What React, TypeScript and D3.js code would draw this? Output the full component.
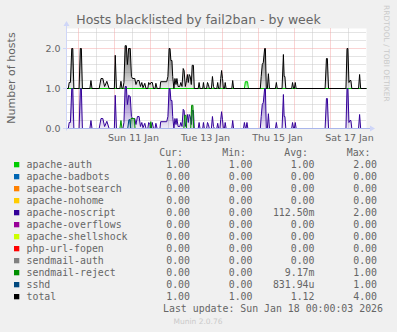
import React from "react";
import * as d3 from "d3";

const W = 397;
const H = 332;

const startTime = new Date(2026, 0, 9, 16, 0, 0);
const endTime = new Date(2026, 0, 18, 0, 0, 0);

const titleText = "Hosts blacklisted by fail2ban - by week";
const yAxisLabel = "Number of hosts";
const yTickValues = [0, 1, 2];
const yTickLabels = ["0.0", "1.0", "2.0"];
const xTickLabels = ["Sun 11 Jan", "Tue 13 Jan", "Thu 15 Jan", "Sat 17 Jan"];
const xTickDates = [
  new Date(2026, 0, 11, 12),
  new Date(2026, 0, 13, 12),
  new Date(2026, 0, 15, 12),
  new Date(2026, 0, 17, 12),
];

const seriesNames = [
  "apache-auth",
  "apache-badbots",
  "apache-botsearch",
  "apache-nohome",
  "apache-noscript",
  "apache-overflows",
  "apache-shellshock",
  "php-url-fopen",
  "sendmail-auth",
  "sendmail-reject",
  "sshd",
  "total",
];
const seriesColors = [
  "#00CC00",
  "#0066B3",
  "#FF8000",
  "#FFCC00",
  "#330099",
  "#990099",
  "#CCFF00",
  "#FF0000",
  "#808080",
  "#008F00",
  "#00487D",
  "#000000",
];
const seriesBaselines = [1, 0, 0, 0, 0, 0, 0, 0, 0, 0, 0, 1];
const curValues = ["1.00", "0.00", "0.00", "0.00", "0.00", "0.00", "0.00", "0.00", "0.00", "0.00", "0.00", "1.00"];
const minValues = ["1.00", "0.00", "0.00", "0.00", "0.00", "0.00", "0.00", "0.00", "0.00", "0.00", "0.00", "1.00"];
const avgValues = ["1.00", "0.00", "0.00", "0.00", "112.50m", "0.00", "0.00", "0.00", "0.00", "9.17m", "831.94u", "1.12"];
const maxValues = ["2.00", "0.00", "0.00", "0.00", "2.00", "0.00", "0.00", "0.00", "0.00", "1.00", "1.00", "4.00"];
const lastUpdate = "Last update: Sun Jan 18 00:00:03 2026";
const muninVersion = "Munin 2.0.76";
const watermark = "RRDTOOL / TOBI OETIKER";

// [hours since start, value]
const apacheAuth: [number, number][] = [
  [0, 1], [118.6, 1], [119.2, 1.17], [120.7, 1.17], [121.3, 1], [200, 1],
];
const apacheBadbots: [number, number][] = [[0, 0], [200, 0]];
const apacheBotsearch: [number, number][] = [[0, 0], [200, 0]];
const apacheNohome: [number, number][] = [[0, 0], [200, 0]];
const apacheNoscript: [number, number][] = [
  [0, 0], [1.2, 0], [1.8, 0.15], [2.6, 0.15], [3.5, 1.0], [4.2, 1.0], [4.9, 0],
  [8.4, 0], [9.2, 1.0], [9.9, 1.0], [10.6, 0],
  [15.6, 0], [16.3, 0.2], [17.0, 0],
  [21.8, 0], [23, 0.25], [24.2, 0.25], [25.4, 0.05], [26.9, 0.18], [28.4, 0],
  [31.9, 0], [32.5, 0.83], [33.3, 0],
  [37.6, 0], [38.3, 0.15], [39.1, 1.05], [39.9, 1.05], [40.6, 0.6], [41.4, 0.83], [42.5, 0.8],
  [43.3, 0.3], [44, 0.25], [45.5, 0.25], [46.3, 0.1], [47.3, 0.3], [48.4, 0.3], [49.3, 0.05],
  [50.2, 0.15], [51, 0.02], [52.2, 0.13], [53, 0],
  [54.2, 0], [54.8, 0.15], [55.6, 0.1], [56.3, 0], [57.2, 0.15], [58, 0],
  [59, 0], [59.6, 0.13], [60.4, 0],
  [62.3, 0], [62.8, 0.17], [66.8, 0.17], [67.6, 0.3], [68.4, 1.0], [69, 1.0], [69.6, 0.7], [70.3, 0.7],
  [70.8, 0.3], [71.6, 0], [72.3, 0.25], [73, 0.1], [73.6, 0.25], [74.4, 0.05], [75.5, 0.05], [76.2, 0.15],
  [77, 0.05], [77.8, 0.48], [78.4, 0.45], [79.2, 0.05], [80, 0.2], [80.6, 0.35], [81.2, 0.15], [81.8, 0.35],
  [82.5, 0.3], [83.2, 0.1], [83.8, 0.45], [84.6, 0.45], [85.2, 0],
  [87.8, 0], [88.4, 0.15], [89, 0], [90.8, 0], [91.3, 0.15], [91.9, 0], [93.4, 0], [94, 0.15], [94.6, 0.1],
  [95.2, 0], [96.6, 0], [97.3, 0.3], [98, 0.05], [98.6, 0],
  [100.2, 0], [100.8, 0.13], [101.4, 0], [102.3, 0], [102.8, 0.22], [103.4, 0.42], [104, 0.22], [104.6, 0],
  [105.3, 0], [105.8, 0.15], [106.4, 0],
  [110.2, 0], [110.8, 0.2], [111.4, 0],
  [118.0, 0], [118.6, 0.15], [119.3, 0], [119.7, 0], [120.3, 0.15], [120.9, 0],
  [129.2, 0], [129.8, 0.3], [130.5, 0.6], [131.2, 0.65], [132.1, 1.0], [132.6, 1.0], [133.2, 0],
  [133.9, 0], [134.6, 0.37], [135.3, 0],
  [139.3, 0], [139.9, 0.15], [140.5, 0],
  [143.7, 0], [144.6, 0.85], [145.1, 0.3], [145.6, 0.3], [146.2, 0],
  [150.1, 0], [150.7, 0.15], [151.4, 0], [151.9, 0], [152.5, 0.15], [153.1, 0],
  [172.4, 0], [173.3, 0.75], [173.9, 0.75], [174.7, 0],
  [186.3, 0], [187, 1.0], [187.6, 1.0], [188.3, 0.15], [188.9, 0.2], [189.6, 0.2], [190.2, 0],
  [194.7, 0], [195.4, 0.35], [196.1, 0],
  [200, 0],
];
const apacheOverflows: [number, number][] = [[0, 0], [200, 0]];
const apacheShellshock: [number, number][] = [[0, 0], [200, 0]];
const phpUrlFopen: [number, number][] = [[0, 0], [200, 0]];
const sendmailAuth: [number, number][] = [[0, 0], [200, 0]];
const sendmailReject: [number, number][] = [
  [0, 0], [35.6, 0], [36.3, 0.2], [37.0, 0],
  [42.6, 0], [43.0, 0.25], [45.2, 0.25], [45.7, 0],
  [55.6, 0], [56.2, 0.17], [56.8, 0],
  [78.2, 0], [78.8, 0.33], [79.6, 0.33], [80.1, 0],
  [82.8, 0], [83.4, 0.58], [84.3, 0.58], [84.8, 0],
  [200, 0],
];
const sshd: [number, number][] = [
  [0, 0], [40.8, 0], [41.6, 0.22], [42.3, 0.22], [42.9, 0], [200, 0],
];
const total: [number, number][] = [
  [0, 1], [1.2, 1], [1.8, 1.15], [2.6, 1.15], [3.5, 2.0], [4.2, 2.0], [4.9, 1],
  [8.4, 1], [9.2, 2.0], [9.9, 2.0], [10.6, 1],
  [15.6, 1], [16.3, 1.2], [17.0, 1],
  [21.8, 1], [23, 1.25], [24.2, 1.25], [25.4, 1.05], [26.9, 1.18], [28.4, 1],
  [31.9, 1], [32.5, 1.83], [33.3, 1],
  [35.6, 1], [36.3, 1.18], [37.0, 1],
  [37.6, 1], [38.3, 1.15], [39.1, 2.07], [39.9, 2.07], [40.6, 1.6], [41.4, 2.0], [42.5, 2.0],
  [43.3, 1.3], [44, 1.25], [45.5, 1.25], [46.3, 1.1], [47.3, 1.2], [48.4, 1.2], [49.3, 1.05],
  [50.2, 1.15], [51, 1.02], [52.2, 1.13], [53, 1],
  [54.2, 1], [54.8, 1.15], [55.6, 1.1], [56.3, 1.15], [57.2, 1.15], [58, 1],
  [59, 1], [59.6, 1.13], [60.4, 1],
  [62.3, 1], [62.8, 1.17], [66.8, 1.17], [67.6, 1.3], [68.4, 2.0], [69, 2.0], [69.6, 1.7], [70.3, 1.7],
  [70.8, 1.3], [71.6, 1], [72.3, 1.25], [73, 1.1], [73.6, 1.25], [74.4, 1.05], [75.5, 1.05], [76.2, 1.15],
  [77, 1.05], [77.8, 1.5], [78.4, 1.45], [79.2, 1.05], [80, 1.2], [80.6, 1.35], [81.2, 1.15], [81.8, 1.35],
  [82.5, 1.3], [83.2, 1.1], [83.8, 1.58], [84.6, 1.58], [85.2, 1],
  [87.8, 1], [88.4, 1.15], [89, 1], [90.8, 1], [91.3, 1.15], [91.9, 1], [93.4, 1], [94, 1.15], [94.6, 1.1],
  [95.2, 1], [96.6, 1], [97.3, 1.3], [98, 1.05], [98.6, 1],
  [100.2, 1], [100.8, 1.15], [101.4, 1], [102.3, 1], [102.8, 1.25], [103.4, 1.45], [104, 1.25], [104.6, 1],
  [105.3, 1], [105.8, 1.15], [106.4, 1],
  [110.2, 1], [110.8, 1.2], [111.4, 1],
  [129.2, 1], [129.8, 1.3], [130.5, 1.6], [131.2, 1.65], [132.1, 2.0], [132.6, 2.0], [133.2, 1],
  [133.9, 1], [134.6, 1.37], [135.3, 1],
  [139.3, 1], [139.9, 1.15], [140.5, 1],
  [143.7, 1], [144.6, 1.85], [145.1, 1.3], [145.6, 1.3], [146.2, 1],
  [150.1, 1], [150.7, 1.15], [151.4, 1], [151.9, 1], [152.5, 1.15], [153.1, 1],
  [172.4, 1], [173.3, 1.75], [173.9, 1.75], [174.7, 1],
  [186.3, 1], [187, 2.0], [187.6, 2.0], [188.3, 1.15], [188.9, 1.2], [189.6, 1.2], [190.2, 1],
  [194.7, 1], [195.4, 1.35], [196.1, 1],
  [200, 1],
];

const seriesData = [
  apacheAuth, apacheBadbots, apacheBotsearch, apacheNohome, apacheNoscript, apacheOverflows,
  apacheShellshock, phpUrlFopen, sendmailAuth, sendmailReject, sshd, total,
];

const PL = 66.5, PR = 366.5, PT = 28.5, PB = 128.5;
const FONT = "#666666";
const AXIS = "#CFD6F8";

export default function App() {
  const x = d3.scaleTime().domain([startTime, endTime]).range([PL, PR]);
  const y = d3.scaleLinear().domain([0, 2.5]).range([PB, PT]);
  const toDate = (h: number) => new Date(startTime.getTime() + h * 3600 * 1000);
  const line = d3
    .line<[number, number]>()
    .x((d) => x(toDate(d[0])))
    .y((d) => y(d[1]));
  const area = (base: number) =>
    d3
      .area<[number, number]>()
      .x((d) => x(toDate(d[0])))
      .y0(y(base))
      .y1((d) => y(d[1]));

  const minorH = d3.range(1, 13).map((k) => k * 0.2).filter((v) => Math.abs(v - Math.round(v)) > 1e-6);
  const majorH = [1, 2];
  const days = d3.timeDay.range(startTime, endTime).filter((d) => d > startTime);
  const noons = d3.timeHour.range(startTime, endTime).filter((d) => d.getHours() === 12);

  const mono = "'DejaVu Sans Mono', monospace";
  const sans = "'DejaVu Sans', sans-serif";
  const legendBase = 168;
  const rowH = 12;

  return (
    <div style={{ position: "fixed", left: 0, top: 0 }}>
      <svg width={W} height={H} xmlns="http://www.w3.org/2000/svg" style={{ display: "block" }}>
        <defs>
          <clipPath id="plotclip">
            <rect x={PL} y={PT - 2} width={PR - PL + 1} height={PB - PT + 3} />
          </clipPath>
          {seriesData.map((s, i) => {
            const top = d3.max(s, (d) => d[1]) ?? 0;
            const base = seriesBaselines[i];
            return (
              <linearGradient
                key={"gr" + i}
                id={"grad" + i}
                gradientUnits="userSpaceOnUse"
                x1={0}
                x2={0}
                y1={y(top)}
                y2={y(base)}
              >
                <stop offset="0" stopColor={seriesColors[i]} stopOpacity={0.6} />
                <stop offset="1" stopColor={seriesColors[i]} stopOpacity={0.08} />
              </linearGradient>
            );
          })}
        </defs>
        <rect x={0} y={0} width={W} height={H} fill="#F0F0F0" />
        <rect x={PL} y={PT} width={PR - PL} height={PB - PT} fill="#FFFFFF" />

        {/* grid */}
        <g strokeWidth={1} strokeDasharray="1,1" fill="none">
          {minorH.map((v, i) => (
            <line key={"mh" + i} x1={PL} x2={PR} y1={y(v)} y2={y(v)} stroke="#C8C8C8" />
          ))}
          {noons.map((d, i) => (
            <line key={"mv" + i} x1={x(d)} x2={x(d)} y1={PT} y2={PB} stroke="#C8C8C8" />
          ))}
          {majorH.map((v, i) => (
            <line key={"Mh" + i} x1={PL} x2={PR} y1={y(v)} y2={y(v)} stroke="#F4A8A8" />
          ))}
          {days.map((d, i) => (
            <line key={"Mv" + i} x1={x(d)} x2={x(d)} y1={PT} y2={PB} stroke="#F4A8A8" />
          ))}
        </g>

        {/* data */}
        <g clipPath="url(#plotclip)" strokeLinejoin="round">
          {seriesData.map((s, i) => (
            <g key={seriesNames[i]}>
              <path d={area(seriesBaselines[i])(s) || ""} fill={`url(#grad${i})`} stroke="none" />
              <path d={line(s) || ""} stroke={seriesColors[i]} strokeWidth={1} fill="none" />
            </g>
          ))}
        </g>

        {/* axes */}
        <line x1={PL} x2={PL} y1={PB + 2} y2={24} stroke={AXIS} />
        <line x1={63} x2={371} y1={PB} y2={PB} stroke="#A9B6EC" />
        <polygon points={`${PL},21 ${PL - 3},26 ${PL + 3},26`} fill={AXIS} />
        <polygon points={`375,${PB} 370,${PB - 3} 370,${PB + 3}`} fill={AXIS} />
        {yTickValues.map((v, i) => (
          <line key={"yt" + i} x1={63} x2={PL} y1={y(v)} y2={y(v)} stroke={AXIS} />
        ))}

        {/* title */}
        <text x={198.5} y={24} textAnchor="middle" fontFamily={sans} fontSize={12.5} fill={FONT}>
          {titleText}
        </text>
        <text
          transform={`translate(14.7,78) rotate(-90)`}
          textAnchor="middle"
          fontFamily={sans}
          fontSize={11}
          fill={FONT}
        >
          {yAxisLabel}
        </text>
        {yTickValues.map((v, i) => (
          <text key={"yl" + i} x={60.5} y={y(v) + 3.4} textAnchor="end" fontFamily={sans} fontSize={9.5} fill={FONT}>
            {yTickLabels[i]}
          </text>
        ))}
        {xTickDates.map((d, i) => (
          <text key={"xl" + i} x={x(d) + 1} y={140.5} textAnchor="middle" fontFamily={sans} fontSize={9.5} fill={FONT}>
            {xTickLabels[i]}
          </text>
        ))}
        <text
          transform={`translate(383.5,5) rotate(90)`}
          textAnchor="start"
          fontFamily={sans}
          fontSize={7.5}
          fill="#CACACA"
        >
          {watermark}
        </text>

        {/* legend */}
        <g fontFamily={mono} fontSize={9.9} fill={FONT}>
          <text x={183} y={156} textAnchor="end">Cur:</text>
          <text x={246} y={156} textAnchor="end">Min:</text>
          <text x={308} y={156} textAnchor="end">Avg:</text>
          <text x={370.5} y={156} textAnchor="end">Max:</text>
          {seriesNames.map((name, i) => {
            const by = legendBase + i * rowH;
            return (
              <g key={"lg" + i}>
                <rect x={14} y={by - 6} width={5.3} height={5.3} fill={seriesColors[i]} />
                <text x={26.5} y={by}>{name}</text>
                <text x={190} y={by} textAnchor="end">{curValues[i]}</text>
                <text x={252.5} y={by} textAnchor="end">{minValues[i]}</text>
                <text x={314.5} y={by} textAnchor="end">{avgValues[i]}</text>
                <text x={377} y={by} textAnchor="end">{maxValues[i]}</text>
              </g>
            );
          })}
          <text x={383} y={312} textAnchor="end">{lastUpdate}</text>
        </g>
        <text x={198} y={324} textAnchor="middle" fontFamily={sans} fontSize={7.5} fill="#CACACA">
          {muninVersion}
        </text>
      </svg>
    </div>
  );
}
